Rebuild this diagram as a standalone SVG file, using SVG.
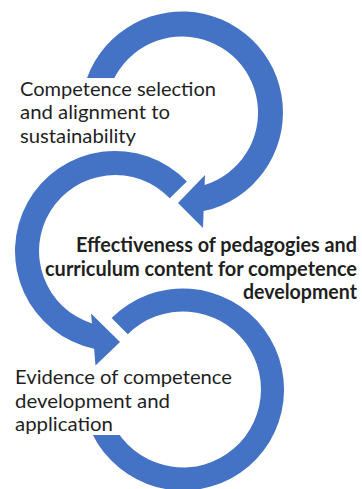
<svg xmlns="http://www.w3.org/2000/svg" width="362" height="489" viewBox="0 0 362 489">
  <style>
    .ring { fill: #4472C4; }
    .box { fill: #ffffff; }
    .label { font-family: Lato, "Open Sans", "Liberation Sans", sans-serif; font-size: 20px; fill: #1f1f1f; }
    .bold { font-weight: bold; }
  </style>
  <rect width="362" height="489" fill="#ffffff"/>

  <!-- circular arrows -->
  <g id="connectors">
    <!-- top ring: clockwise, head pointing left at its bottom -->
    <path class="ring" d="M 82.5 95 A 101 101 0 1 1 203.6 211.1 L 203 228 L 178 203 L 205 175 L 204.6 185.1 A 76 76 0 1 0 107.2 99.3 Z"/>
    <!-- middle ring: counter-clockwise, head pointing right at its bottom -->
    <path class="ring" d="M 186.9 181.5 A 100 100 0 1 0 94.1 348.8 L 95.5 365.5 L 120 342 L 91 313.5 L 91.9 323.4 A 76 76 0 1 1 169.7 198.2 Z"/>
    <!-- bottom ring: open arc without head -->
    <path class="ring" d="M 111.6 318.1 A 101 101 0 1 1 88.1 424 L 109.7 416.2 A 78 78 0 1 0 127.8 334.3 Z"/>
  </g>

  <g id="node-selection">
    <rect class="box" x="12" y="78" width="224" height="71"/>
    <text class="label" x="20" y="95.5" textLength="196" lengthAdjust="spacingAndGlyphs">Competence selection</text>
    <text class="label" x="20" y="119" textLength="150" lengthAdjust="spacingAndGlyphs">and alignment to</text>
    <text class="label" x="20" y="142.5" textLength="116" lengthAdjust="spacingAndGlyphs">sustainability</text>
  </g>

  <g id="node-effectiveness">
    <text class="label bold" x="357" y="252" text-anchor="end" textLength="281" lengthAdjust="spacingAndGlyphs">Effectiveness of pedagogies and</text>
    <text class="label bold" x="357" y="275.5" text-anchor="end" textLength="312" lengthAdjust="spacingAndGlyphs">curriculum content for competence</text>
    <text class="label bold" x="357" y="299" text-anchor="end" textLength="114" lengthAdjust="spacingAndGlyphs">development</text>
  </g>

  <g id="node-evidence">
    <rect class="box" x="8" y="368" width="230" height="67"/>
    <text class="label" x="15" y="384" textLength="217" lengthAdjust="spacingAndGlyphs">Evidence of competence</text>
    <text class="label" x="15" y="407.5" textLength="155" lengthAdjust="spacingAndGlyphs">development and</text>
    <text class="label" x="15" y="431" textLength="98" lengthAdjust="spacingAndGlyphs">application</text>
  </g>
</svg>
